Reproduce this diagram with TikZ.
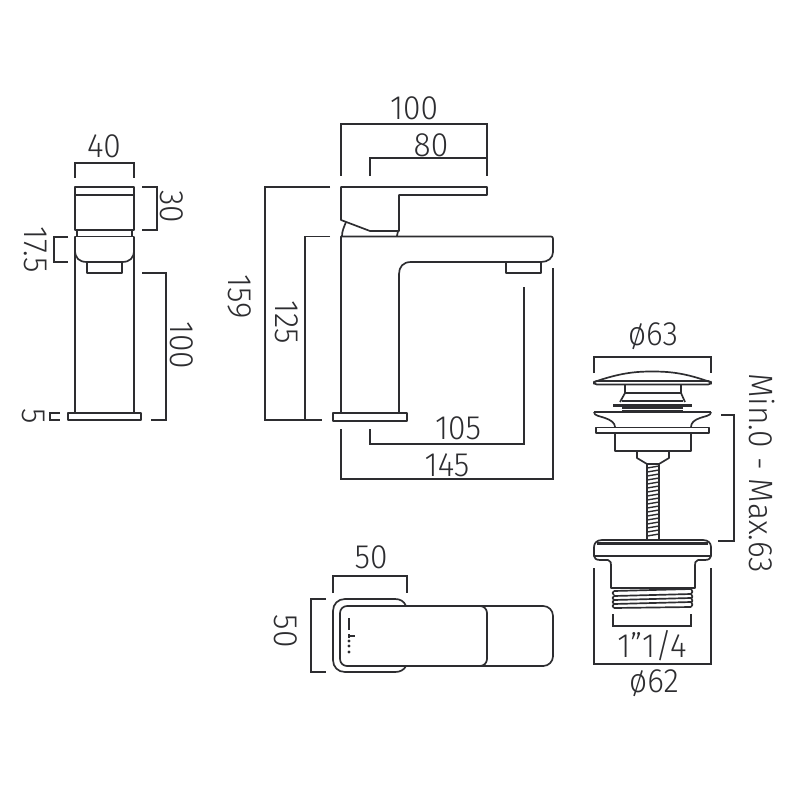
\documentclass[tikz,border=0pt]{standalone}
\usepackage{fontspec}
\setmainfont[FakeStretch=0.94,UprightFont=* Light]{Fira Sans}
\definecolor{inkline}{RGB}{45,45,48}
\tikzset{
  part/.style={draw=inkline,line width=1.2pt,line join=round},
  dimline/.style={draw=inkline,line width=0.95pt},
  dimlabel/.style={text=inkline,inner sep=0pt,font=\fontsize{24}{25}\selectfont},
  dimside/.style={dimlabel,rotate=-90}
}
\begin{document}
\begin{tikzpicture}[x=0.025cm,y=-0.025cm]
\useasboundingbox (0,0) rectangle (800,800);

% side view
\draw [part] (75,187) rectangle (134,230);
\draw [part] (75,195)--(134,195);
\draw [part] (77,230)--(77,237);
\draw [part] (132,230)--(132,237);
\draw [part] (75,413)--(75,237)--(134,237)--(134,413);
\draw [part,fill=white] (75,237)--(75,250) .. controls (75,258) and (79,262) .. (87,262)--(122,262) .. controls (130,262) and (134,258) .. (134,250)--(134,237);
\draw [part] (87,262)--(87,273)--(122,273)--(122,262);
\draw [part] (68,413) rectangle (141,420);
\draw [dimline] (75,178)--(75,163)--(134,163)--(134,178);
\draw [dimline] (142,187)--(157,187)--(157,230)--(142,230);
\draw [dimline] (68,237)--(54,237)--(54,262)--(68,262);
\draw [dimline] (142,273)--(166,273)--(166,420)--(151,420);
\draw [dimline] (60,413)--(50,413)--(50,420)--(60,420);
\node [dimlabel] (sideforty) at (104,146) {40};
\node [dimside] (sidethirty) at (172,207) {30};
\node [dimside] (sidecollar) at (36,250) {17.5};
\node [dimside] (sidehundred) at (182,345) {100};
\node [dimside] (sidefive) at (34,416) {5};

% front view
\draw [part] (341,220)--(341,187)--(487,187)--(487,195)--(399,195)--(399,231)--(370,231)--cycle;
\draw [part] (346,222) .. controls (344,227) and (342,231) .. (342,236);
\draw [part] (398,231)--(397,236);
\draw [part] (341,413)--(341,236.5)--(551,236.5) .. controls (552.5,236.5) and (553,237.5) .. (553,239)--(553,252) .. controls (553,258) and (548,262) .. (541,262)--(411,262) .. controls (403,262) and (399,267) .. (399,274)--(399,413);
\draw [part] (506,262)--(506,273)--(541,273)--(541,262);
\draw [part] (333,413) rectangle (407,421);
\draw [dimline] (341,176)--(341,124)--(487,124)--(487,176);
\draw [dimline] (370,176)--(370,158)--(487,158);
\draw [dimline] (330,187)--(265,187)--(265,420)--(322,420);
\draw [dimline] (330,236.5)--(305,236.5)--(305,420);
\draw [dimline] (370,429)--(370,444)--(524,444)--(524,287);
\draw [dimline] (341,429)--(341,479)--(553,479)--(553,268);
\node [dimlabel] (fronthundred) at (414,108) {100};
\node [dimlabel] (fronteighty) at (431,145) {80};
\node [dimside] (frontheight) at (240,297) {159};
\node [dimside] (frontbody) at (287,322) {125};
\node [dimlabel] (frontreach) at (458,428) {105};
\node [dimlabel] (frontwidth) at (447,465) {145};

% top view
\draw [part] (406,606) .. controls (404,601) and (400,599) .. (395,599)--(345,599) .. controls (338,599) and (333,604) .. (333,611)--(333,660) .. controls (333,667) and (338,672) .. (345,672)--(395,672) .. controls (400,672) and (404,670) .. (406,666);
\draw [part,rounded corners=5pt] (340,606) rectangle (487,666);
\draw [part,rounded corners=7pt] (478,606)--(553,606)--(553,666)--(478,666);
\draw [part,line width=1.5pt] (349,618)--(349,630);
\draw [part,line width=1.5pt] (349,636)--(355,636);
\draw [part,line width=1.5pt] (349,634)--(349,638);
\foreach \doty in {641,646,652}
  \fill [inkline] (349,\doty) circle (1.1pt);
\draw [dimline] (333,593)--(333,576)--(407,576)--(407,593);
\draw [dimline] (326,599)--(311,599)--(311,672)--(326,672);
\node [dimlabel] (topwidth) at (371,557) {50};
\node [dimside] (topdepth) at (286,631) {50};

% waste, upper part
\draw [part] (594,382) .. controls (620,373) and (635,371.5) .. (652,371.5) .. controls (670,371.5) and (685,373) .. (710,382);
\draw [part,rounded corners=2pt] (594,381) rectangle (711,384.5);
\draw [part] (625,385)--(625,393)--(620,402);
\draw [part] (681,385)--(681,393)--(685,402);
\draw [part] (625,393)--(681,393);
\draw [part] (622,401)--(683,401);
\draw [part,line width=1.8pt] (613,405.5)--(692,405.5);
\draw [part] (622,408)--(683,408);
\draw [part,line width=2pt] (622,411)--(683,411);
\draw [part] (594,412)--(711,412);
\draw [part] (594,412) .. controls (594,416) and (600,416) .. (605,418) .. controls (611,420) and (615,423) .. (615,427);
\draw [part] (711,412) .. controls (711,416) and (705,416) .. (700,418) .. controls (694,420) and (691,423) .. (691,427);
\draw [part] (596,427.5) rectangle (709,433);
\draw [part] (615,433)--(615,451)--(691,451)--(691,433);
\draw [part] (637,451)--(637,458)--(647,464);
\draw [part] (669,451)--(669,458)--(659,464);
\draw [part] (647,464)--(659,464);
\draw [part] (647,464)--(647,540);
\draw [part] (659,464)--(659,540);
\foreach \rody in {468,472,...,536}
  \draw [part,line width=1pt] (647,\rody)--(659,\rody-2);

% waste, lower part
\draw [part,fill=white] (602,540)--(703,540) .. controls (708,540) and (711,543) .. (711,547)--(711,556) .. controls (711,558) and (709,560) .. (705,560)--(698,560) .. controls (695,561) and (695,563) .. (695,565)--(695,588)--(611,588)--(611,565) .. controls (611,563) and (611,561) .. (608,560)--(600,560) .. controls (596,560) and (594,558) .. (594,556)--(594,547) .. controls (594,543) and (597,540) .. (602,540)--cycle;
\draw [part,line width=1.6pt] (597,543.5)--(708,543.5);
\draw [part] (594,556)--(711,556);
\foreach \thready in {590,595,599,603}
{
  \draw [part] (614,\thready+1)--(691,\thready-1);
  \draw [part] (614,\thready+1) .. controls (612,\thready+2) and (612,\thready+4) .. (614,\thready+5);
  \draw [part] (691,\thready-1) .. controls (693,\thready) and (693,\thready+3) .. (691,\thready+4);
}
\draw [part] (614,608)--(691,607);
\draw [dimline] (594,373)--(594,357)--(711,357)--(711,373);
\draw [dimline] (613,614)--(613,626)--(691,626)--(691,614);
\draw [dimline] (594,568)--(594,664)--(711,664)--(711,568);
\draw [dimline] (721,415)--(734,415)--(734,541)--(718,541);
\node [dimlabel] (wastetop) at (653,336) {ø63};
\node [dimlabel] (wastethread) at (652,646) {1”1/4};
\node [dimlabel] (wastebase) at (654,683) {ø62};
\node [dimside] (wastelift) at (762,473) {Min.0 - Max.63};
\end{tikzpicture}
\end{document}
